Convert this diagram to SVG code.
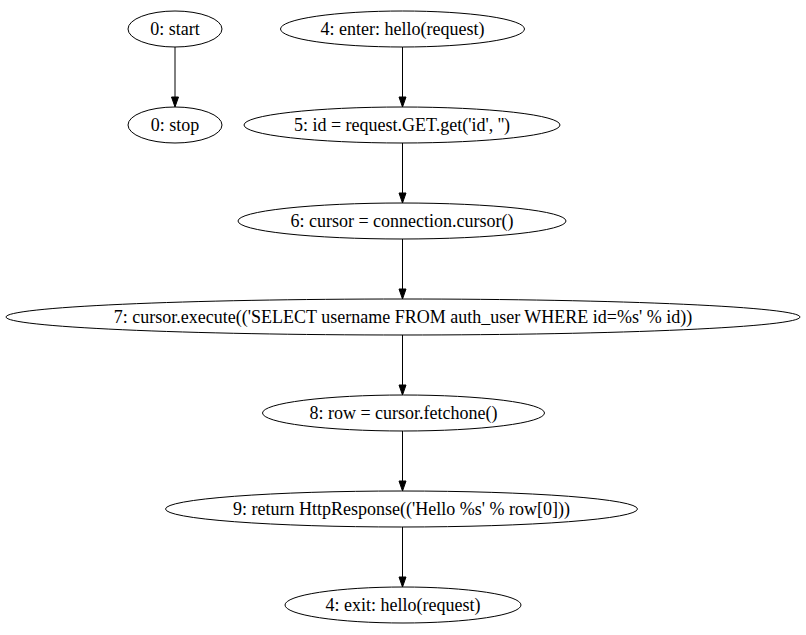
<svg xmlns="http://www.w3.org/2000/svg" width="806" height="635" viewBox="0 0 806 635">
<defs>
<style>
.n ellipse{fill:none;stroke:#000;stroke-width:1}
.n text{font-family:"Liberation Serif","Times New Roman",serif;font-size:18px;text-anchor:middle;fill:#000}
.e line{stroke:#000;stroke-width:1}
.e polygon{fill:#000;stroke:#000;stroke-width:1}
</style>
</defs>
<rect width="806" height="635" fill="#fff"/>
<g id="edges" class="e">
<line x1="175" y1="47" x2="175" y2="97"/><polygon points="171.5,97 175,107 178.5,97"/>
<line x1="402.5" y1="47" x2="402.5" y2="97"/><polygon points="399,97 402.5,107 406,97"/>
<line x1="402.5" y1="143" x2="402.5" y2="193"/><polygon points="399,193 402.5,203 406,193"/>
<line x1="402.5" y1="239" x2="402.5" y2="289"/><polygon points="399,289 402.5,299 406,289"/>
<line x1="402.5" y1="335" x2="402.5" y2="385"/><polygon points="399,385 402.5,395 406,385"/>
<line x1="402.5" y1="431" x2="402.5" y2="481"/><polygon points="399,481 402.5,491 406,481"/>
<line x1="402.5" y1="527" x2="402.5" y2="577"/><polygon points="399,577 402.5,587 406,577"/>
</g>
<g id="n0start" class="n"><ellipse cx="175" cy="29" rx="47" ry="18"/><text x="175" y="35">0: start</text></g>
<g id="n0stop" class="n"><ellipse cx="175" cy="125" rx="47" ry="18"/><text x="175" y="131">0: stop</text></g>
<g id="n4enter" class="n"><ellipse cx="402.5" cy="29" rx="122" ry="18"/><text x="402.5" y="35">4: enter: hello(request)</text></g>
<g id="n5" class="n"><ellipse cx="402" cy="125" rx="158" ry="18"/><text x="402" y="131">5: id = request.GET.get('id', '')</text></g>
<g id="n6" class="n"><ellipse cx="402" cy="221" rx="164" ry="18"/><text x="402" y="227">6: cursor = connection.cursor()</text></g>
<g id="n7" class="n"><ellipse cx="403" cy="317" rx="397" ry="18"/><text x="403" y="323">7: cursor.execute(('SELECT username FROM auth_user WHERE id=%s' % id))</text></g>
<g id="n8" class="n"><ellipse cx="403.5" cy="413" rx="141" ry="18"/><text x="403.5" y="419">8: row = cursor.fetchone()</text></g>
<g id="n9" class="n"><ellipse cx="401.5" cy="509" rx="236" ry="18"/><text x="401.5" y="515">9: return HttpResponse(('Hello %s' % row[0]))</text></g>
<g id="n4exit" class="n"><ellipse cx="403" cy="605" rx="118" ry="18"/><text x="403" y="611">4: exit: hello(request)</text></g>
</svg>
